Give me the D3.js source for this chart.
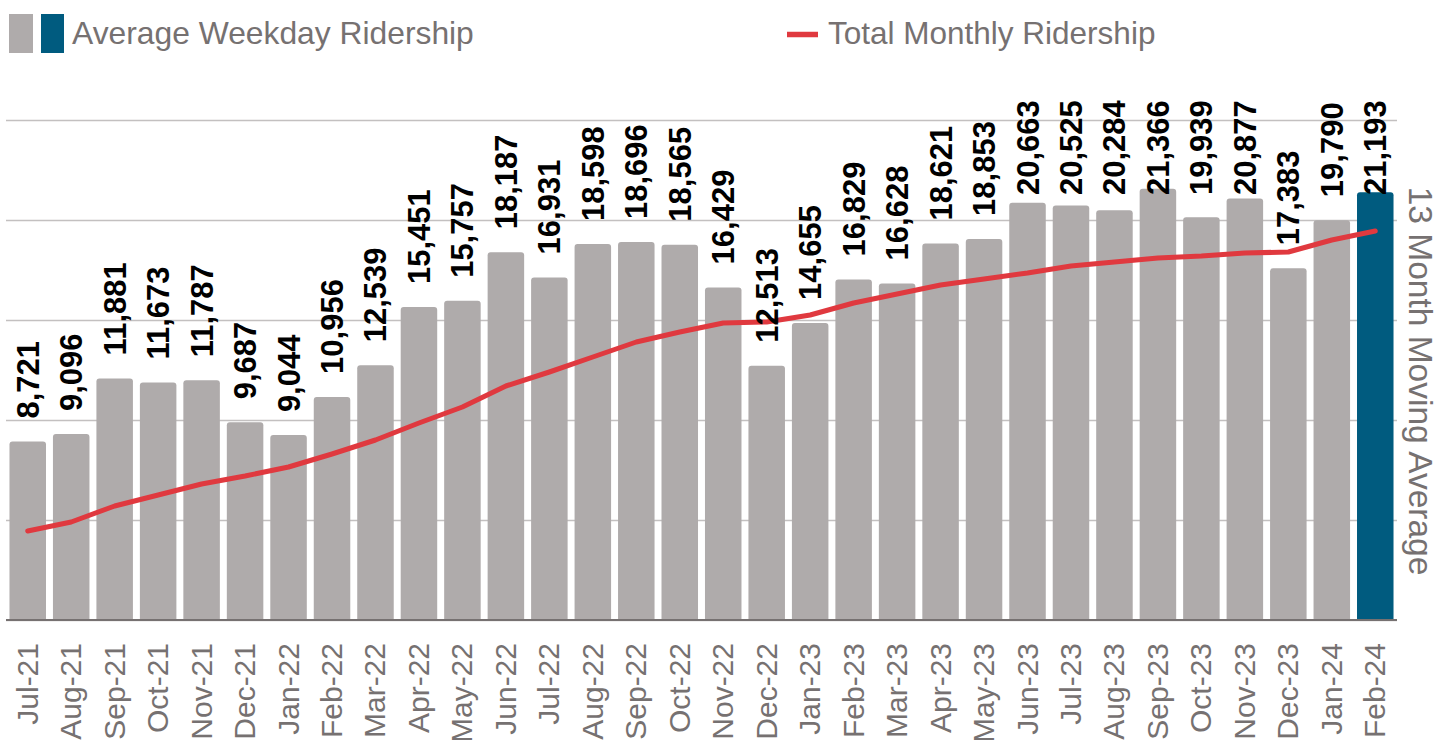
<!DOCTYPE html>
<html>
<head>
<meta charset="utf-8">
<script src="https://cdn.jsdelivr.net/npm/d3@7"></script>
<style>
body{margin:0;background:#fff;}
svg{display:block;font-family:"Liberation Sans",Arial,sans-serif;}
</style>
</head>
<body>
<svg width="1441" height="740"></svg>
<script>
// months on the x axis
var months=["Jul-21","Aug-21","Sep-21","Oct-21","Nov-21","Dec-21","Jan-22","Feb-22","Mar-22","Apr-22","May-22","Jun-22","Jul-22","Aug-22","Sep-22","Oct-22","Nov-22","Dec-22","Jan-23","Feb-23","Mar-23","Apr-23","May-23","Jun-23","Jul-23","Aug-23","Sep-23","Oct-23","Nov-23","Dec-23","Jan-24","Feb-24"];

// average weekday ridership (bars)
var weekday=[8721,9096,11881,11673,11787,9687,9044,10956,12539,15451,15757,18187,16931,18598,18696,18565,16429,12513,14655,16829,16628,18621,18853,20663,20525,20284,21366,19939,20877,17383,19790,21193];

// total monthly ridership, 13 month moving average (line)
var monthlyAvg=[89000,98000,114000,125000,136000,144000,153000,166000,180000,197000,213000,234000,248000,263000,278000,288000,297000,298000,305000,317000,326000,335000,341000,347000,354000,358000,362000,364000,367000,368000,380000,389000];

var gridTicks=[0,100000,200000,300000,400000,500000];

var grey="#afabab", blue="#005b7f", red="#e0393f", textGrey="#767171";

var svg=d3.select("svg");
var bottom=620;

var x=d3.scaleBand()
  .domain(months)
  .range([6,1397])
  .paddingInner(0.16)
  .paddingOuter(0.08);

var yLeft=d3.scaleLinear().domain([0,25000]).range([616,116]);
var yRight=d3.scaleLinear().domain([0,500000]).range([bottom,120]);

// gridlines (secondary axis, no labels)
var grid=svg.append("g")
  .attr("transform","translate(1397,0)")
  .call(d3.axisRight(yRight).tickValues(gridTicks).tickSize(-1391).tickFormat(""));
grid.select(".domain").remove();
grid.selectAll("line").attr("stroke","#c3c0c0").attr("stroke-width",1.6);

// bars with rounded tops
var r=3;
svg.selectAll("path.bar")
  .data(weekday)
  .enter()
  .append("path")
  .attr("class","bar")
  .attr("fill",function(d,i){return i==weekday.length-1?blue:grey;})
  .attr("d",function(d,i){
    var x0=x(months[i]), w=x.bandwidth(), y0=yLeft(d);
    return "M"+x0+","+(bottom+1)+"V"+(y0+r)+"Q"+x0+","+y0+" "+(x0+r)+","+y0
      +"H"+(x0+w-r)+"Q"+(x0+w)+","+y0+" "+(x0+w)+","+(y0+r)+"V"+(bottom+1)+"Z";
  });

// baseline
svg.append("line")
  .attr("x1",6).attr("x2",1397)
  .attr("y1",bottom).attr("y2",bottom)
  .attr("stroke",textGrey).attr("stroke-width",2);

// moving average line
var line=d3.line()
  .x(function(d,i){return x(months[i])+x.bandwidth()/2;})
  .y(function(d){return yRight(d);});

svg.append("path")
  .datum(monthlyAvg)
  .attr("d",line)
  .attr("fill","none")
  .attr("stroke",red)
  .attr("stroke-width",5)
  .attr("stroke-linejoin","round")
  .attr("stroke-linecap","round");

// data labels
svg.selectAll("text.lbl")
  .data(weekday)
  .enter()
  .append("text")
  .attr("class","lbl")
  .attr("transform",function(d,i){
    var cx=x(months[i])+x.bandwidth()/2;
    var yEnd=Math.max(yLeft(d)-23,195);
    return "translate("+(cx+11)+","+yEnd+") rotate(-90)";
  })
  .attr("font-size",31)
  .attr("font-weight","bold")
  .attr("fill","#000")
  .text(function(d){return d3.format(",")(d);});

// x axis labels
var xAxis=svg.append("g")
  .attr("transform","translate(0,"+bottom+")")
  .call(d3.axisBottom(x).tickSize(0));
xAxis.select(".domain").remove();
xAxis.selectAll("text")
  .attr("x",0).attr("y",0).attr("dy",0)
  .attr("transform","translate(10,23) rotate(-90)")
  .attr("text-anchor","end")
  .attr("font-size",30)
  .attr("font-family","\"Liberation Sans\",Arial,sans-serif")
  .attr("fill",textGrey);

// right axis title
svg.append("text")
  .attr("transform","translate(1409,381) rotate(90)")
  .attr("text-anchor","middle")
  .attr("font-size",33.5)
  .attr("fill",textGrey)
  .text("13 Month Moving Average");

// legend
svg.append("rect").attr("x",9).attr("y",14).attr("width",24).attr("height",39).attr("fill",grey);
svg.append("rect").attr("x",41).attr("y",14).attr("width",23).attr("height",39).attr("fill",blue);
svg.append("text").attr("x",72).attr("y",44).attr("font-size",31.8).attr("fill",textGrey)
  .text("Average Weekday Ridership");
svg.append("line").attr("x1",787).attr("x2",818).attr("y1",34.5).attr("y2",34.5)
  .attr("stroke",red).attr("stroke-width",5.5);
svg.append("text").attr("x",828).attr("y",44).attr("font-size",31.5).attr("fill",textGrey)
  .text("Total Monthly Ridership");
</script>
</body>
</html>
